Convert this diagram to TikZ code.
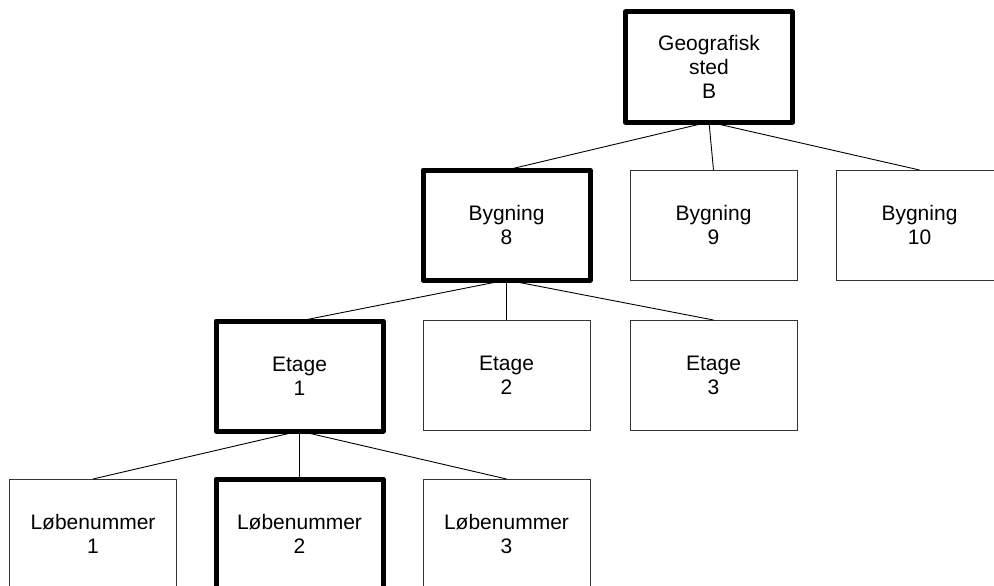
\documentclass[tikz,border=0pt]{standalone}
\usepackage{fontspec}
\setmainfont{Liberation Sans}
\begin{document}
\begin{tikzpicture}[x=1pt,y=-1pt,
  box/.style={rectangle, draw=black!80, line width=1pt, fill=white,
    minimum width=167pt, minimum height=110pt, inner sep=0pt, outer sep=0pt,
    align=center, font=\fontsize{21}{24}\selectfont},
  sel/.style={box, draw=black, line width=5pt, line join=round},
  link/.style={draw=black, line width=0.9pt}]
\useasboundingbox (0,0) rectangle (994,586);
\clip (0,0) rectangle (994,586);

% root
\node[sel] (geo) at (709,67) {Geografisk\\sted\\B};

% buildings
\node[sel] (byg8)  at (506.5,225) {Bygning\\8};
\node[box] (byg9)  at (713.5,225) {Bygning\\9};
\node[box] (byg10) at (919.5,225) {Bygning\\10};

% floors
\node[sel] (et1) at (299.5,376) {Etage\\1};
\node[box] (et2) at (506.5,375) {Etage\\2};
\node[box] (et3) at (713.5,375) {Etage\\3};

% sequence numbers
\node[box] (lb1) at (93,534)    {Løbenummer\\1};
\node[sel] (lb2) at (299.5,534) {Løbenummer\\2};
\node[box] (lb3) at (506.5,534) {Løbenummer\\3};

% tree links
\draw[link] (geo.south) -- (byg8.north);
\draw[link] (geo.south) -- (byg9.north);
\draw[link] (geo.south) -- (byg10.north);
\draw[link] (byg8.south) -- (et1.north);
\draw[link] (byg8.south) -- (et2.north);
\draw[link] (byg8.south) -- (et3.north);
\draw[link] (et1.south) -- (lb1.north);
\draw[link] (et1.south) -- (lb2.north);
\draw[link] (et1.south) -- (lb3.north);
\end{tikzpicture}
\end{document}
